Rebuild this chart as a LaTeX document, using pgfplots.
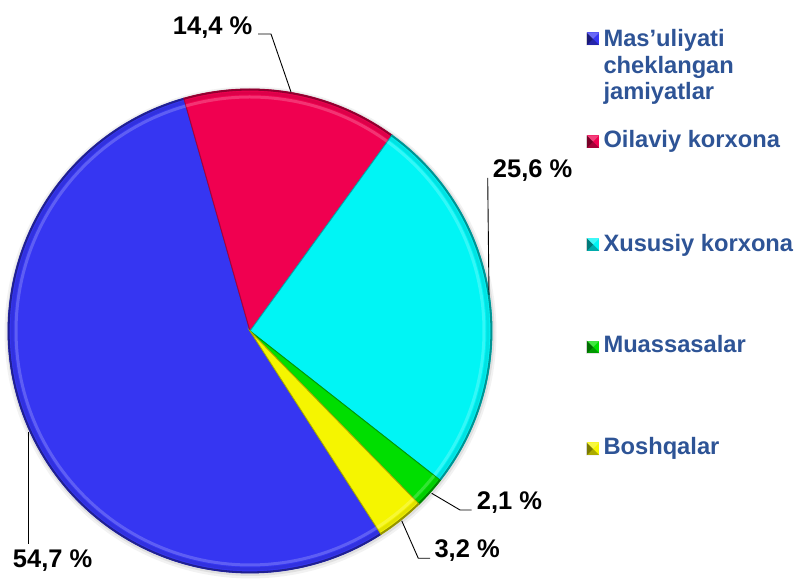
\documentclass[border=0pt]{standalone}
\usepackage{pgfplots}
\pgfplotsset{compat=1.18}
\usepackage{pgfplotstable}
\usepackage{fontspec}
\setmainfont{Liberation Sans}

\definecolor{cblue}{RGB}{54,54,242}
\definecolor{cred}{RGB}{240,0,80}
\definecolor{ccyan}{RGB}{0,245,245}
\definecolor{cgreen}{RGB}{0,222,0}
\definecolor{cyellow}{RGB}{245,245,0}
\definecolor{legtext}{RGB}{46,84,150}

\pgfdeclareplotmark{bevel}{%
  \pgfpathrectangle{\pgfpoint{-\pgfplotmarksize}{-\pgfplotmarksize}}{\pgfpoint{2\pgfplotmarksize}{2\pgfplotmarksize}}%
  \pgfusepathqfill
  \begin{pgfscope}
    \pgfsetfillcolor{black}\pgfsetfillopacity{0.5}%
    \pgfpathmoveto{\pgfpoint{-\pgfplotmarksize}{-\pgfplotmarksize}}%
    \pgfpathlineto{\pgfpoint{-\pgfplotmarksize}{\pgfplotmarksize}}%
    \pgfpathlineto{\pgfpointorigin}\pgfpathclose\pgfusepathqfill
    \pgfsetfillopacity{0.3}%
    \pgfpathmoveto{\pgfpoint{-\pgfplotmarksize}{-\pgfplotmarksize}}%
    \pgfpathlineto{\pgfpoint{\pgfplotmarksize}{-\pgfplotmarksize}}%
    \pgfpathlineto{\pgfpointorigin}\pgfpathclose\pgfusepathqfill
    \pgfsetfillcolor{white}\pgfsetfillopacity{0.25}%
    \pgfpathmoveto{\pgfpoint{-\pgfplotmarksize}{\pgfplotmarksize}}%
    \pgfpathlineto{\pgfpoint{\pgfplotmarksize}{\pgfplotmarksize}}%
    \pgfpathlineto{\pgfpointorigin}\pgfpathclose\pgfusepathqfill
  \end{pgfscope}
}

\pgfplotstableread{
name value
Masuliyati 54.7
Oilaviy 14.4
Xususiy 25.6
Muassasalar 2.1
Boshqalar 3.2
}\piedata

\newcommand{\sector}[3]{%
  \addplot[fill=#1, draw=#1!70!black, line width=0.9pt, domain=#2:#3, samples=120]
    ({250+242*cos(x)},{242+242*sin(x)}) -- (250,242) -- cycle;
  \addplot[draw=#1!60!black, line width=1.8pt, domain=#2:#3, samples=120]
    ({250+241.3*cos(x)},{242+241.3*sin(x)});
  \addplot[draw=#1!85!black, draw opacity=0.5, line width=3pt, domain=#2:#3, samples=120]
    ({250+238*cos(x)},{242+238*sin(x)});
  \addplot[draw=white, draw opacity=0.2, line width=3pt, domain=#2:#3, samples=120]
    ({250+234*cos(x)},{242+234*sin(x)});
}

\begin{document}
\begin{tikzpicture}
\pgfplotstablegetelem{0}{value}\of\piedata\let\vA\pgfplotsretval
\pgfplotstablegetelem{1}{value}\of\piedata\let\vB\pgfplotsretval
\pgfplotstablegetelem{2}{value}\of\piedata\let\vC\pgfplotsretval
\pgfplotstablegetelem{3}{value}\of\piedata\let\vD\pgfplotsretval
\pgfplotstablegetelem{4}{value}\of\piedata\let\vE\pgfplotsretval
\pgfmathsetmacro\tA{302.8}
\pgfmathsetmacro\tB{\tA-3.6*\vA}
\pgfmathsetmacro\tC{\tB-3.6*\vB}
\pgfmathsetmacro\tD{\tC-3.6*\vC}
\pgfmathsetmacro\tE{\tD-3.6*\vD}
\pgfmathsetmacro\tF{\tE-3.6*\vE}
\begin{axis}[hide axis, scale only axis, width=797pt, height=573pt,
  xmin=0, xmax=797, ymin=0, ymax=573, clip=false]
  \path (rel axis cs:0,0) rectangle (rel axis cs:1,1);
  % soft shadow
  \addplot[fill=black, fill opacity=0.05, draw=none, domain=0:360, samples=150]
    ({250.5+246*cos(x)},{240.5+246*sin(x)}) -- cycle;
  \addplot[fill=black, fill opacity=0.08, draw=none, domain=0:360, samples=150]
    ({250.5+244*cos(x)},{241+244*sin(x)}) -- cycle;
  % sectors
  \sector{cblue}{\tB}{\tA}
  \sector{cred}{\tC}{\tB}
  \sector{ccyan}{\tD}{\tC}
  \sector{cgreen}{\tE}{\tD}
  \sector{cyellow}{\tF}{\tE}
  % leader lines
  \addplot[black, line width=0.9pt] coordinates {(258,539) (271,539) (291,481)};
  \addplot[black, line width=0.9pt] coordinates {(487.7,395) (489,278)};
  \addplot[black, line width=0.9pt] coordinates {(28.3,141) (28.3,29)};
  \addplot[black, line width=0.9pt] coordinates {(431.7,79.7) (460,63) (471.7,63)};
  \addplot[black, line width=0.9pt] coordinates {(401.7,52.3) (418.3,14.7) (430,14.7)};
  % value labels
  \begin{scope}[every node/.style={anchor=base west, inner sep=0pt,
      font=\fontsize{25.5}{28}\selectfont\bfseries}]
    \node at (172.7,538) {14,4 \%};
    \node at (492.7,395) {25,6 \%};
    \node at (12.7,5) {54,7 \%};
    \node at (476.7,63) {2,1 \%};
    \node at (434.3,15) {3,2 \%};
  \end{scope}
  % legend markers
  \addplot[only marks, mark=bevel, mark size=6.3pt, color=cblue] coordinates {(593,534.2)};
  \addplot[only marks, mark=bevel, mark size=6.3pt, color=cred] coordinates {(593,431.3)};
  \addplot[only marks, mark=bevel, mark size=6.3pt, color=ccyan] coordinates {(593,328.5)};
  \addplot[only marks, mark=bevel, mark size=6.3pt, color=cgreen] coordinates {(593,226)};
  \addplot[only marks, mark=bevel, mark size=6.3pt, color=cyellow] coordinates {(593,124.2)};
  % legend texts
  \begin{scope}[every node/.style={anchor=base west, inner sep=0pt, text=legtext,
      font=\fontsize{23.7}{26.7}\selectfont\bfseries}]
    \node at (603.3,526) {Mas’uliyati};
    \node at (603.3,499.5) {cheklangan};
    \node at (603.3,473) {jamiyatlar};
    \node at (603.3,425) {Oilaviy korxona};
    \node at (603.3,321) {Xususiy korxona};
    \node at (603.3,220) {Muassasalar};
    \node at (603.3,118) {Boshqalar};
  \end{scope}
\end{axis}
\end{tikzpicture}
\end{document}
